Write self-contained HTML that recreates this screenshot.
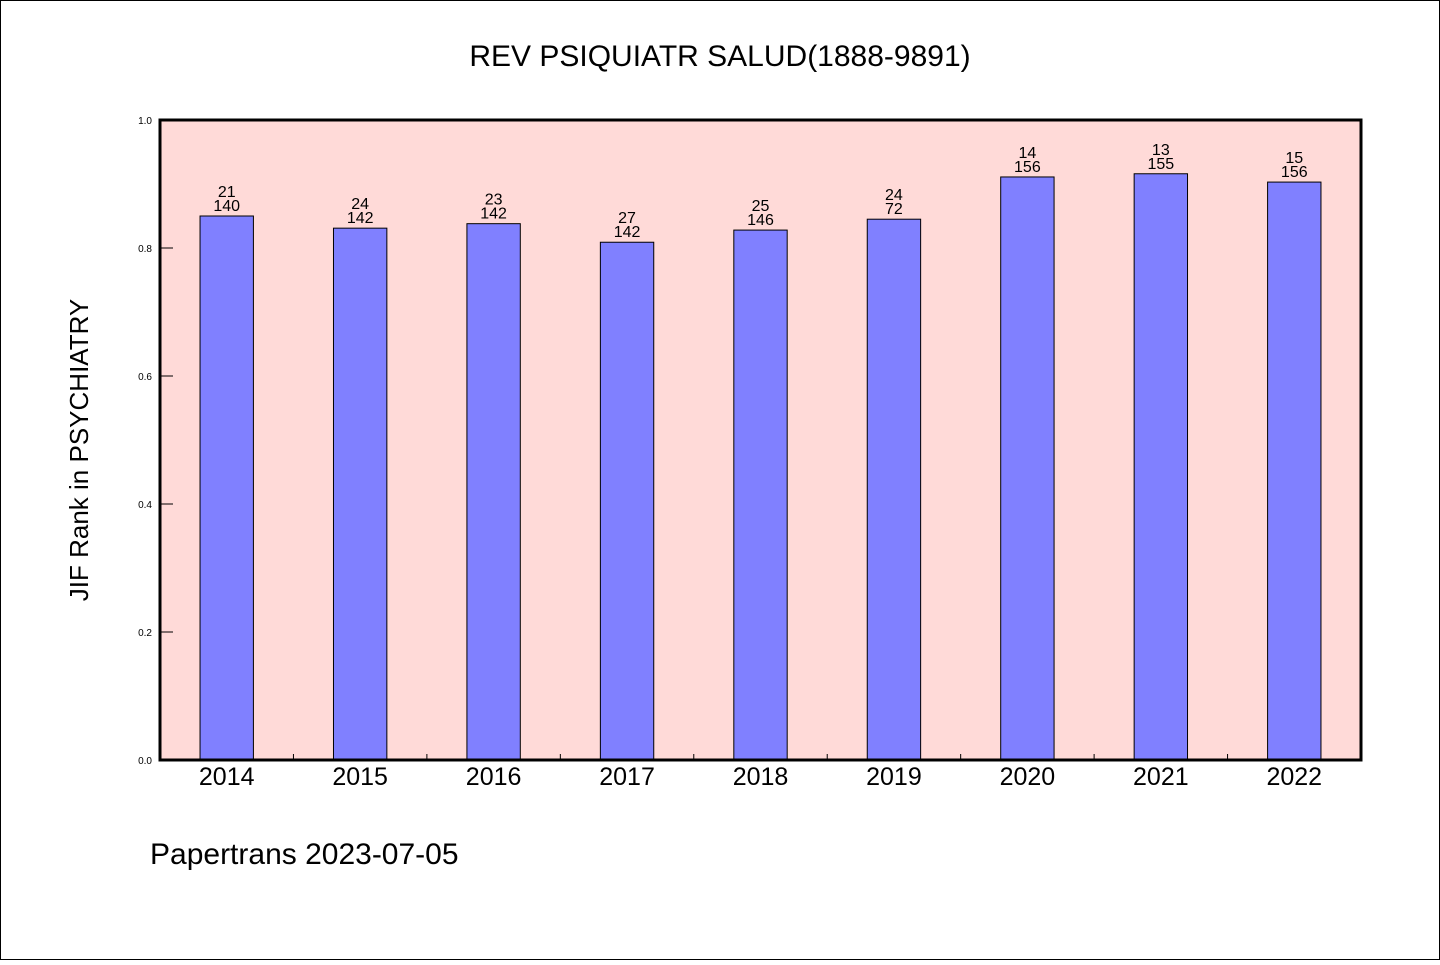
<!DOCTYPE html>
<html><head><meta charset="utf-8"><style>
body{margin:0;background:#fff;}
svg text{font-family:"Liberation Sans","DejaVu Sans",sans-serif;}
</style></head><body>
<svg id="chart" width="1440" height="960" xmlns="http://www.w3.org/2000/svg">
<rect x="0.5" y="0.5" width="1439" height="959" fill="#fff" stroke="#000"/>
<text x="720" y="66" text-anchor="middle" font-size="30">REV PSIQUIATR SALUD(1888-9891)</text>
<text transform="translate(88,450) rotate(-90)" text-anchor="middle" font-size="26">JIF Rank in PSYCHIATRY</text>
<text x="150" y="864" font-size="30">Papertrans 2023-07-05</text>
<g id="plot"></g>
</svg>
<script>
const categories=["2014","2015","2016","2017","2018","2019","2020","2021","2022"];
const values=[0.850,0.831,0.838,0.809,0.828,0.845,0.911,0.916,0.903];
const rankLabels=["21","24","23","27","25","24","14","13","15"];
const totalLabels=["140","142","142","142","146","72","156","155","156"];
const yTicks=[0,0.2,0.4,0.6,0.8,1.0];
const yTickLabels=["0.0","0.2","0.4","0.6","0.8","1.0"];
const L=160,R=1361,T=120,B=760;
const band=(R-L)/categories.length;
const xc=i=>L+band*(i+0.5);
const y=v=>B-(B-T)*v;
const g=document.getElementById('plot');
const NS="http://www.w3.org/2000/svg";
function mk(t,a){const e=document.createElementNS(NS,t);for(const k in a)e.setAttribute(k,a[k]);g.appendChild(e);return e;}
let bg=mk('rect',{x:L,y:T,width:R-L,height:B-T,fill:'#ffdad8'});


yTicks.forEach((v,i)=>{
 let tk=mk('line',{x1:L,x2:L+13,y1:y(v),y2:y(v),stroke:'#000','stroke-width':1});
 
 
 let t=mk('text',{x:152,y:y(v)+4,'text-anchor':'end','font-size':10});
 t.textContent=yTickLabels[i];
 
 
});
categories.forEach((c,i)=>{
 const bw=band*0.4;
 let b=mk('rect',{x:xc(i)-bw/2,y:y(values[i]),width:bw,height:B-y(values[i]),fill:'#8080ff',stroke:'#000','stroke-width':1});
 
 
 let t1=mk('text',{x:xc(i),y:y(values[i])-19,'text-anchor':'middle','font-size':16});
 t1.textContent=rankLabels[i];
 
 
 let t2=mk('text',{x:xc(i),y:y(values[i])-5,'text-anchor':'middle','font-size':16});
 t2.textContent=totalLabels[i];
 
 
 let xl=mk('text',{x:xc(i),y:785,'text-anchor':'middle','font-size':25});
 xl.textContent=c;
 
 
 if(i>0){let tk=mk('line',{x1:L+band*i,x2:L+band*i,y1:B-6,y2:B,stroke:'#000'});
 
 }
});
let fr=mk('rect',{x:L,y:T,width:R-L,height:B-T,fill:'none',stroke:'#000','stroke-width':3});


</script>
</body></html>
